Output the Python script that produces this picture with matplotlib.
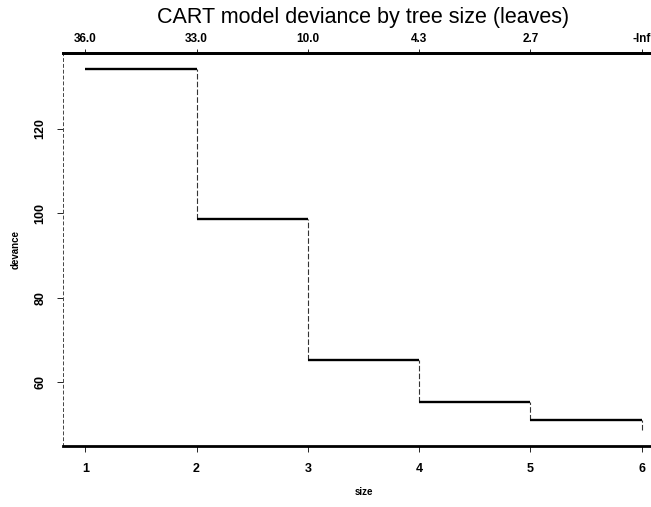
import matplotlib
matplotlib.use("Agg")
import matplotlib.pyplot as plt

# Deviance of the pruned CART tree at each size
size = [1, 2, 3, 4, 5, 6]
deviance = [134.2, 98.6, 65.2, 55.3, 51.0, 48.6]
# Cost-complexity parameter k shown on the top axis
k_labels = ["36.0", "33.0", "10.0", "4.3", "2.7", "-Inf"]
y_ticks = [60, 80, 100, 120]

plt.rcParams["font.family"] = ["Liberation Sans", "DejaVu Sans"]

fig = plt.figure(figsize=(6.51, 5.07), dpi=100)
ax = fig.add_axes([63 / 651, 61 / 507, 601 / 651, 393 / 507])

# Step curve: horizontal runs drawn heavy, vertical drops drawn light/dashed
for i in range(len(size) - 1):
    ax.hlines(deviance[i], size[i], size[i + 1], color="black", lw=1.7)
    ax.vlines(size[i + 1], deviance[i + 1], deviance[i], color="#333333",
              lw=0.8, linestyles=(0, (5, 2)))

ax.set_xlim(0.8, 6.2)
ax.set_ylim(44.8, 138.0)

ax.set_xticks(size)
ax.set_xticklabels([str(s) for s in size], fontsize=9, fontweight="bold")
ax.set_yticks(y_ticks)
ax.set_yticklabels([str(v) for v in y_ticks], fontsize=9, fontweight="bold",
                   rotation=90, va="center")
ax.tick_params(axis="both", direction="out", length=4, width=0.6, pad=8)

ax.set_xlabel("size", fontsize=7, fontweight="bold", labelpad=9)
ax.set_ylabel("devance", fontsize=7, fontweight="bold", labelpad=10)

# Top axis with the k values
top = ax.secondary_xaxis("top")
top.set_xticks(size)
top.set_xticklabels(k_labels, fontsize=8.5, fontweight="bold")
top.tick_params(direction="out", length=3, width=0.6, pad=3)
top.spines["top"].set_linewidth(2.0)

ax.spines["right"].set_visible(False)
ax.spines["top"].set_linewidth(2.0)
ax.spines["bottom"].set_linewidth(2.0)
ax.spines["left"].set_linewidth(0.7)
ax.spines["left"].set_color("#444444")
ax.spines["left"].set_linestyle((0, (3, 3)))

fig.text(363 / 651, 1 - 18 / 507, "CART model deviance by tree size (leaves)",
         ha="center", va="center", fontsize=15.5)

fig.savefig("out.png", dpi=100)
